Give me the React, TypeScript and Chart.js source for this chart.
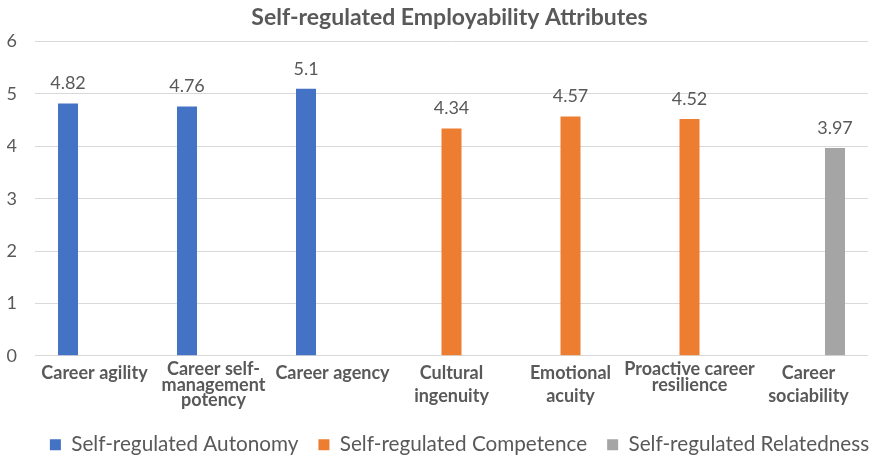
import React, { useEffect, useRef } from "react";
import { Chart, registerables } from "chart.js";

Chart.register(...registerables);

const categories: (string | string[])[] = [
  "Career agility",
  ["Career self-", "management", "potency"],
  "Career agency",
  ["Cultural", "ingenuity"],
  ["Emotional", "acuity"],
  ["Proactive career", "resilience"],
  ["Career", "sociability"],
];
const autonomy = [4.82, 4.76, 5.1, null, null, null, null];
const competence = [null, null, null, 4.34, 4.57, 4.52, null];
const relatedness = [null, null, null, null, null, null, 3.97];
const seriesNames = [
  "Self-regulated Autonomy",
  "Self-regulated Competence",
  "Self-regulated Relatedness",
];
const titleText = "Self-regulated Employability Attributes";
// labels whose lines are set tightly (like the reference's wrapped text)
const tightLabels = [1, 5];

const TEXT = "#595959";
const FONT = "Lato, 'Open Sans', sans-serif";

const valueLabels = {
  id: "valueLabels",
  afterDatasetsDraw(chart: any) {
    const ctx = chart.ctx;
    ctx.save();
    ctx.font = `18px ${FONT}`;
    ctx.fillStyle = TEXT;
    ctx.textAlign = "center";
    ctx.textBaseline = "middle";
    chart.data.datasets.forEach((ds: any, i: number) => {
      const meta = chart.getDatasetMeta(i);
      meta.data.forEach((bar: any, j: number) => {
        const v = ds.data[j];
        if (v === null || v === undefined) return;
        ctx.fillText(String(v), bar.x, bar.y - 20);
      });
    });
    ctx.restore();
  },
};

const shiftBoxes = {
  id: "shiftBoxes",
  afterLayout(chart: any) {
    if (chart.legend) {
      chart.legend.left += 22;
      chart.legend.right += 22;
    }
    if (chart.titleBlock) {
      chart.titleBlock.left += 12;
      chart.titleBlock.right += 12;
    }
  },
};

export default function App() {
  const ref = useRef<HTMLCanvasElement>(null);
  useEffect(() => {
    if (!ref.current) return;
    const chart = new Chart(ref.current, {
      type: "bar",
      data: {
        labels: categories,
        datasets: [
          { label: seriesNames[0], data: autonomy, backgroundColor: "#4472C4" },
          { label: seriesNames[1], data: competence, backgroundColor: "#ED7D31" },
          { label: seriesNames[2], data: relatedness, backgroundColor: "#A5A5A5" },
        ],
      },
      options: {
        animation: false,
        responsive: false,
        maintainAspectRatio: false,
        datasets: { bar: { barPercentage: 0.755, categoryPercentage: 0.668 } },
        layout: { padding: { left: 7, right: 12, top: 0, bottom: -6 } },
        plugins: {
          title: {
            display: true,
            text: titleText,
            color: TEXT,
            font: { family: FONT, size: 23, weight: "bold" },
            padding: { top: 4, bottom: 10 },
          },
          legend: {
            position: "bottom",
            labels: {
              color: TEXT,
              font: { family: FONT, size: 20.7 },
              boxWidth: 11,
              boxHeight: 11,
              padding: 20,
            },
          },
          tooltip: { enabled: false },
        },
        scales: {
          x: {
            grid: { display: false, drawTicks: false, tickLength: 0 },
            border: { display: false },
            afterFit: (s: any) => {
              s.paddingLeft = 0;
              s.paddingRight = 0;
            },
            ticks: {
              color: TEXT,
              maxRotation: 0,
              autoSkip: false,
              padding: 6,
              font: (c: any) => ({
                family: FONT,
                size: 18,
                weight: "bold",
                lineHeight: tightLabels.includes(c.index) ? 0.86 : 1.28,
              }),
            },
          },
          y: {
            min: 0,
            max: 6,
            border: { display: false },
            grid: { color: "#D9D9D9", drawTicks: false, lineWidth: 1 },
            afterFit: (s: any) => {
              s.width = 28;
            },
            ticks: {
              stepSize: 1,
              color: TEXT,
              padding: 18,
              font: { family: FONT, size: 18 },
            },
          },
        },
      },
      plugins: [valueLabels, shiftBoxes],
    });
    return () => chart.destroy();
  }, []);
  return (
    <div style={{ position: "fixed", left: 0, top: 0, width: 880, height: 459, background: "#fff" }}>
      <canvas ref={ref} width={880} height={459} />
    </div>
  );
}
